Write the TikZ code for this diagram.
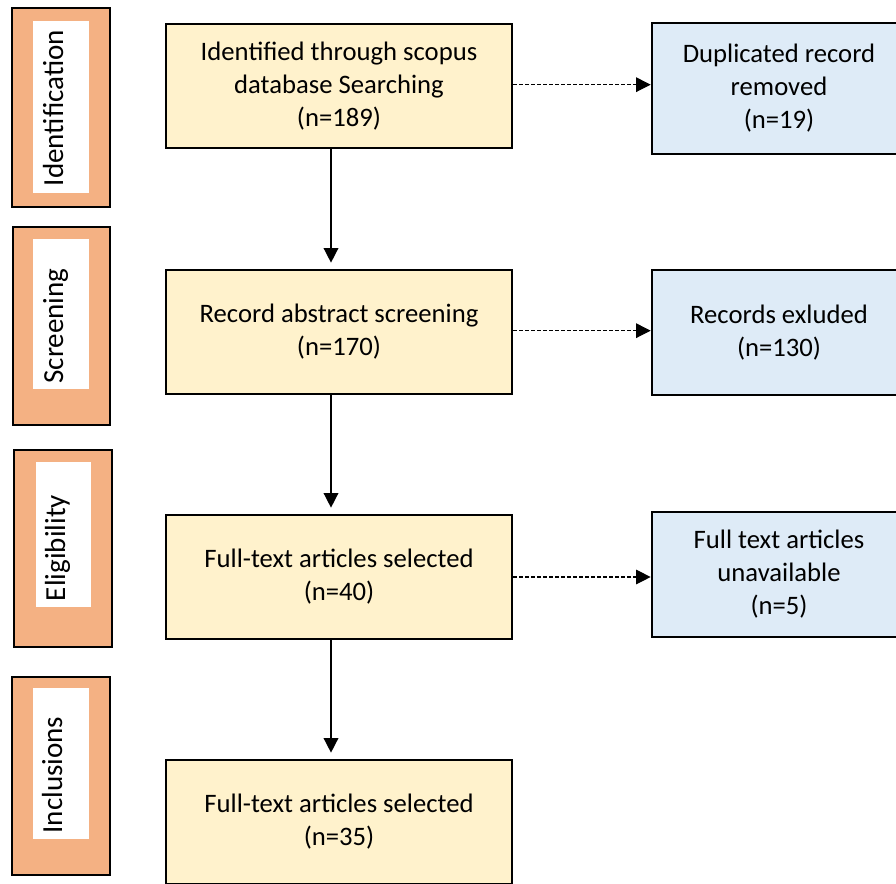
\documentclass[tikz,border=0pt]{standalone}
\usepackage{fontspec}
\setmainfont{Carlito}
\usetikzlibrary{arrows.meta}
\definecolor{ylw}{HTML}{FFF2CC}
\definecolor{blu}{HTML}{DEEBF7}
\definecolor{org}{HTML}{F4B183}
\tikzset{
  ybox/.style={draw=black, line width=2pt, fill=ylw, minimum width=259.5pt, minimum height=93pt, align=center, inner sep=0pt, font=\fontsize{20}{24.8}\selectfont},
  bbox/.style={draw=black, line width=2pt, fill=blu, minimum width=190.5pt, align=center, inner sep=0pt, font=\fontsize{20}{24.8}\selectfont},
  obox/.style={draw=black, line width=2pt, fill=org, minimum width=73.5pt, inner sep=0pt},
  wbox/.style={fill=white, minimum width=42pt, inner sep=0pt},
  slabel/.style={rotate=90, anchor=base, inner sep=0pt, font=\fontsize{21.8}{26}\selectfont},
  varrow/.style={line width=1.1pt, -{Triangle[length=11pt,width=11pt]}, shorten >=4.5pt},
  harrow/.style={line width=0.8pt, dash pattern=on 3pt off 1.5pt, -{Triangle[length=11pt,width=11pt]}}
}
\begin{document}
\begin{tikzpicture}[x=0.75pt,y=-0.75pt]
\useasboundingbox (0,0) rectangle (896,883);
% side stage boxes
\node[obox, minimum height=149.25pt] (o1) at (61,107.5) {};
\node[wbox, minimum height=129pt] (w1) at (61,107) {};
\node[slabel] (l1) at (63,108) {Identification};
\node[obox, minimum height=148.5pt, minimum width=72.75pt] (o2) at (61.5,326) {};
\node[wbox, minimum height=112.5pt] (w2) at (61,314) {};
\node[slabel] (l2) at (63,326) {Screening};
\node[obox, minimum height=147.75pt] (o3) at (63,548.5) {};
\node[wbox, minimum height=108.75pt, minimum width=41.25pt] (w3) at (63.5,534.5) {};
\node[slabel] (l3) at (65,548) {Eligibility};
\node[obox, minimum height=148.5pt] (o4) at (61,776) {};
\node[wbox, minimum height=113.25pt] (w4) at (61,763.5) {};
\node[slabel] (l4) at (62,775) {Inclusions};
% main boxes
\node[ybox] (y1) at (339,86) {Identified through scopus\\database Searching\\(n=189)};
\node[ybox] (y2) at (339,332) {Record abstract screening\\(n=170)};
\node[ybox] (y3) at (339,577) {Full-text articles selected\\(n=40)};
\node[ybox] (y4) at (339,822) {Full-text articles selected\\(n=35)};
% right boxes
\node[bbox, minimum height=98.25pt] (b1) at (779,88.5) {Duplicated record\\removed\\(n=19)};
\node[bbox, minimum height=93.75pt] (b2) at (779,332.5) {Records exluded\\(n=130)};
\node[bbox, minimum height=93.75pt] (b3) at (779,574.5) {Full text articles\\unavailable\\(n=5)};
% connectors
\draw[varrow] ([xshift=-6pt]y1.south) -- ([xshift=-6pt]y2.north);
\draw[varrow] ([xshift=-6pt]y2.south) -- ([xshift=-6pt]y3.north);
\draw[varrow] ([xshift=-6pt]y3.south) -- ([xshift=-6pt]y4.north);
\draw[harrow] ([yshift=1pt]y1.east) -- ([yshift=1pt]y1.east -| b1.west);
\draw[harrow] ([yshift=1pt]y2.east) -- ([yshift=1pt]y2.east -| b2.west);
\draw[harrow] (y3.east) -- (y3.east -| b3.west);
\end{tikzpicture}
\end{document}
